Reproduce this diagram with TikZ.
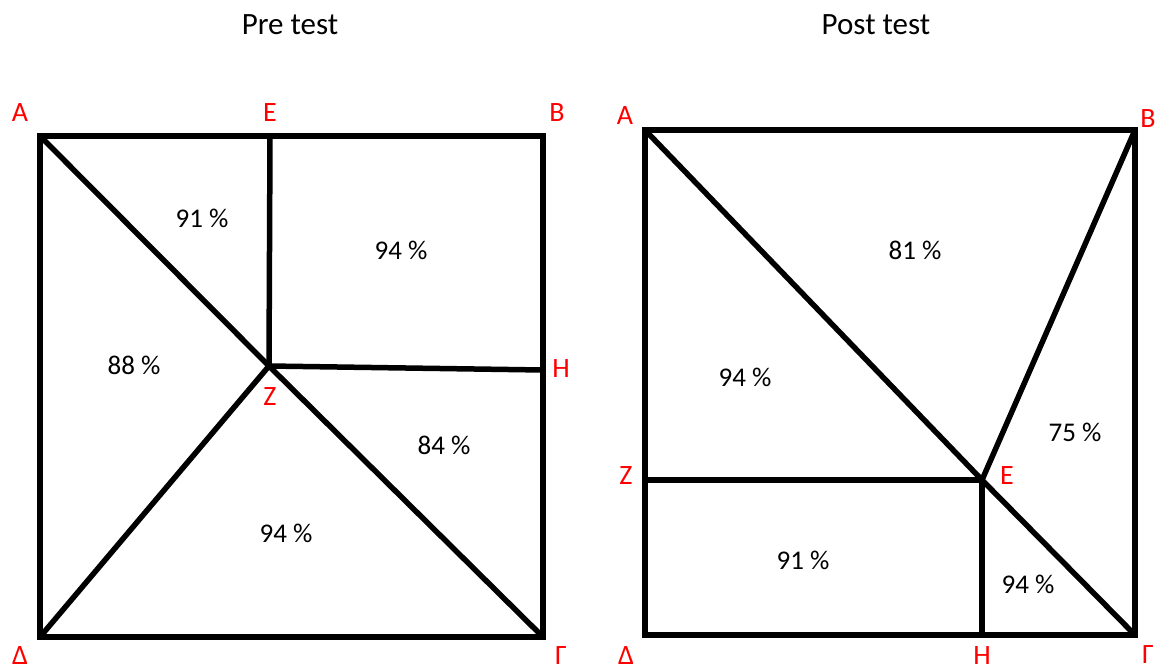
\documentclass[tikz,border=0pt]{standalone}
\usepackage{fontspec}
\setmainfont{Carlito}
\begin{document}
\begin{tikzpicture}[x=1pt,y=-1pt,
  edge/.style={line width=5.5pt,line cap=round,line join=miter},
  vlabel/.style={text=red,font=\fontsize{28}{30}\selectfont,inner sep=0pt},
  blabel/.style={vlabel,anchor=base},
  pct/.style={font=\fontsize{27}{30}\selectfont,inner sep=0pt},
  ttl/.style={font=\fontsize{31}{34}\selectfont,inner sep=0pt}]
\useasboundingbox (0,0) rectangle (1157,667);
% titles
\node[ttl] (t1) at (290,25) {Pre test};
\node[ttl] (t2) at (876,25) {Post test};
% ---- Pre test
\coordinate (LA) at (40,136);
\coordinate (LE) at (270,136);
\coordinate (LB) at (543,136);
\coordinate (LH) at (543,370);
\coordinate (LZ) at (269,366);
\coordinate (LD) at (40,637);
\coordinate (LG) at (543,637);
\draw[edge] (LA) -- (LB) -- (LG) -- (LD) -- cycle;
\draw[edge] (LA) -- (LZ) -- (LG);
\draw[edge] (LD) -- (LZ) -- (LH);
\draw[edge] (LE) -- (LZ);
\node[vlabel] (lA) at (20,113) {A};
\node[vlabel] (lE) at (270,113) {E};
\node[vlabel] (lB) at (557,113) {B};
\node[vlabel] (lH) at (561,369) {H};
\node[vlabel] (lZ) at (270,397) {Z};
\node[blabel] (lD) at (20,664) {Δ};
\node[blabel] (lG) at (561,664) {Γ};
\node[pct] (p1) at (202,218) {91 \%};
\node[pct] (p2) at (401,250) {94 \%};
\node[pct] (p3) at (134,365) {88 \%};
\node[pct] (p4) at (444,445) {84 \%};
\node[pct] (p5) at (286,533) {94 \%};
% ---- Post test
\coordinate (RA) at (645,130);
\coordinate (RB) at (1135,130);
\coordinate (RZ) at (645,480);
\coordinate (RE) at (982,480);
\coordinate (RH) at (982,635);
\coordinate (RD) at (645,635);
\coordinate (RG) at (1135,635);
\draw[edge] (RA) -- (RB) -- (RG) -- (RD) -- cycle;
\draw[edge] (RA) -- (RE) -- (RG);
\draw[edge] (RB) -- (RE);
\draw[edge] (RZ) -- (RE) -- (RH);
\node[vlabel] (rA) at (625,116) {A};
\node[vlabel] (rB) at (1148,119) {B};
\node[vlabel] (rZ) at (626,476) {Z};
\node[vlabel] (rE) at (1007,476) {E};
\node[blabel] (rH) at (982,664) {H};
\node[blabel] (rD) at (626,664) {Δ};
\node[blabel] (rG) at (1148,663) {Γ};
\node[pct] (q1) at (915,250) {81 \%};
\node[pct] (q2) at (745,377) {94 \%};
\node[pct] (q3) at (1075,432) {75 \%};
\node[pct] (q4) at (803,560) {91 \%};
\node[pct] (q5) at (1028,584) {94 \%};
\end{tikzpicture}
\end{document}
